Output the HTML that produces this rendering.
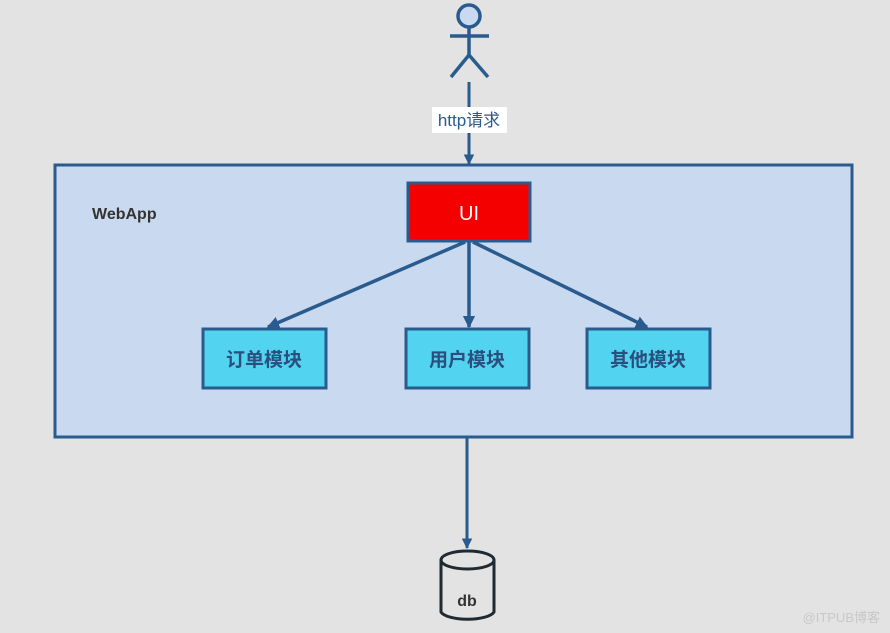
<!DOCTYPE html>
<html><head><meta charset="utf-8"><style>
html,body{margin:0;padding:0;background:#e3e3e3;}
svg{display:block;}
text{font-family:"Liberation Sans","Noto Sans CJK SC",sans-serif;}
</style></head><body>
<svg width="890" height="633" viewBox="0 0 890 633" xmlns="http://www.w3.org/2000/svg">
<defs>
<marker id="a" viewBox="0 0 10 10" refX="9" refY="5" markerWidth="3.5" markerHeight="3.5" orient="auto"><path d="M0,0 L10,5 L0,10 z" fill="#2a5b8e"/></marker>
</defs>
<rect width="890" height="633" fill="#e3e3e3"/>
<g stroke="#2a5b8e" stroke-width="3.5" fill="none">
<circle cx="469" cy="16" r="11" fill="#c9d9ef"/>
<line x1="469" y1="27" x2="469" y2="55"/>
<line x1="450" y1="36" x2="489" y2="36"/>
<line x1="469" y1="55" x2="451" y2="77"/>
<line x1="469" y1="55" x2="488" y2="77"/>
</g>
<line x1="469" y1="82" x2="469" y2="164" stroke="#2a5b8e" stroke-width="3" marker-end="url(#a)"/>
<rect x="432" y="107" width="75" height="26" fill="#ffffff"/>
<text x="469" y="126" font-size="17" fill="#2a5b8e" text-anchor="middle">http请求</text>
<rect x="55" y="165" width="797" height="272" fill="#c9d9ef" stroke="#2a5b8e" stroke-width="3"/>
<text x="92" y="219" font-size="16" fill="#333" font-weight="bold">WebApp</text>
<rect x="408" y="183" width="122" height="58" fill="#f50000" stroke="#2a5b8e" stroke-width="3"/>
<text x="469" y="220" font-size="20" fill="#fff" text-anchor="middle">UI</text>
<g stroke="#2a5b8e" stroke-width="3.5">
<line x1="465" y1="242" x2="268" y2="327" marker-end="url(#a)"/>
<line x1="469" y1="242" x2="469" y2="327" marker-end="url(#a)"/>
<line x1="473" y1="242" x2="647" y2="327" marker-end="url(#a)"/>
</g>
<g fill="#52d3ef" stroke="#2a5b8e" stroke-width="3">
<rect x="203" y="329" width="123" height="59"/>
<rect x="406" y="329" width="123" height="59"/>
<rect x="587" y="329" width="123" height="59"/>
</g>
<g font-size="19" fill="#2a4f7f" text-anchor="middle" font-weight="bold">
<text x="264" y="366">订单模块</text>
<text x="467" y="366">用户模块</text>
<text x="648" y="366">其他模块</text>
</g>
<line x1="467" y1="438" x2="467" y2="548" stroke="#2a5b8e" stroke-width="3" marker-end="url(#a)"/>
<g stroke="#1f2a33" stroke-width="3" fill="#e3e3e3">
<path d="M441,560 L441,612 A27,9 0 0 0 494,612 L494,560"/>
<ellipse cx="467.5" cy="560" rx="26.5" ry="9"/>
</g>
<text x="467" y="606" font-size="16" fill="#333" text-anchor="middle" font-weight="bold">db</text>
<text x="880" y="622" font-size="13" fill="#c8c8c8" text-anchor="end">@ITPUB博客</text>
</svg>
</body></html>
